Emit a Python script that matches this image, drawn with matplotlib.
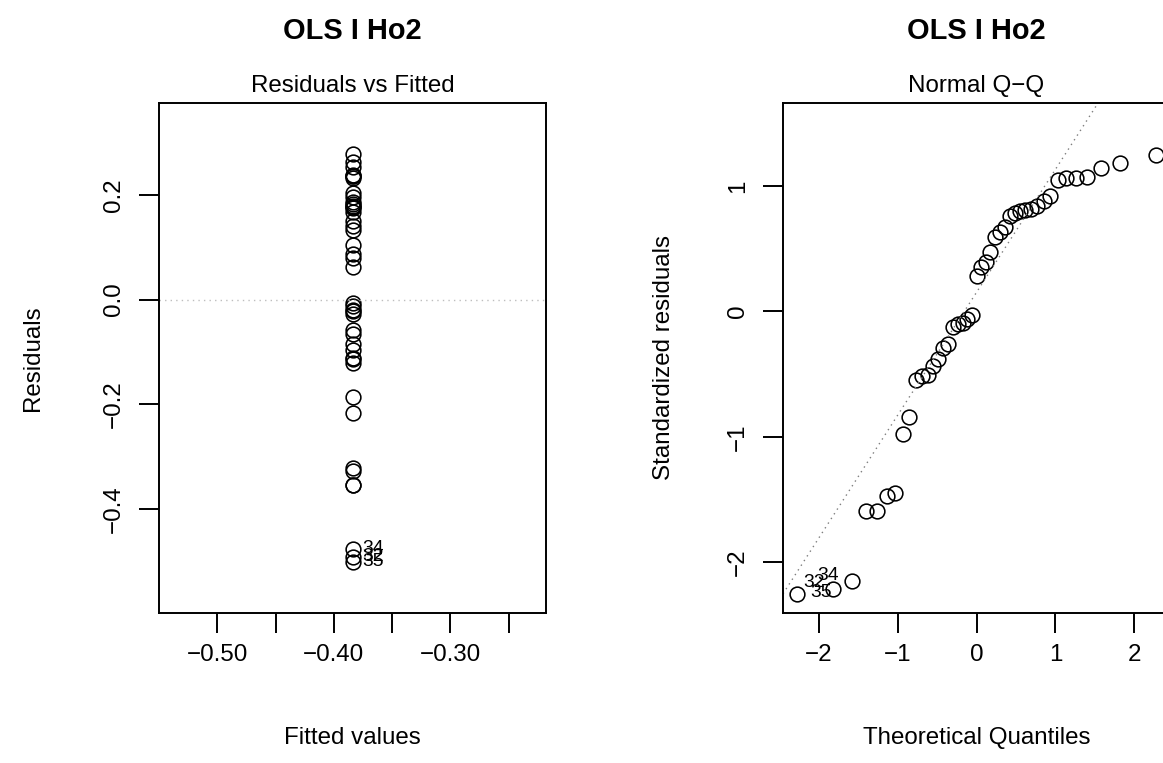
import numpy as np
import matplotlib.pyplot as plt
from statistics import NormalDist

plt.rcParams['font.family'] = ['Liberation Sans', 'DejaVu Sans']

# intercept-only OLS fit (Ho2): residuals per observation, constant fitted value
residuals = [0.141, -0.114, 0.233, -0.353, 0.087, 0.175, -0.027, 0.262, -0.216, 0.182,
             -0.065, 0.105, 0.236, -0.327, 0.150, -0.007, 0.195, -0.096, 0.277, 0.063,
             -0.121, 0.179, -0.353, 0.238, -0.022, 0.168, -0.186, 0.132, -0.085, 0.204,
             -0.013, -0.491, 0.186, -0.476, -0.500, 0.177, -0.321, 0.079, -0.058, 0.253,
             -0.112, 0.236, -0.020]
fitted_value = -0.384
n_coef = 1

main_title = "OLS I Ho2"
x_ticks_fit = [-0.50, -0.45, -0.40, -0.35, -0.30, -0.25]
x_labels_fit = ["\u22120.50", "", "\u22120.40", "", "\u22120.30", ""]
y_ticks_res = [-0.4, -0.2, 0.0, 0.2]
y_labels_res = ["\u22120.4", "\u22120.2", "0.0", "0.2"]
x_ticks_qq = [-2, -1, 0, 1, 2]
y_ticks_qq = [-2, -1, 0, 1]
n_label = 3

r = np.array(residuals)
n = len(r)
fitted = np.full(n, fitted_value)

# standardized residuals, leverage is 1/n for an intercept-only model
sigma = np.sqrt(np.sum(r ** 2) / (n - n_coef))
std_res = r / (sigma * np.sqrt(1 - 1 / n))

# theoretical quantiles, ppoints(n) for n > 10
order = np.argsort(std_res)
probs = (np.arange(1, n + 1) - 0.5) / n
qq_x = np.empty(n)
qq_x[order] = [NormalDist().inv_cdf(p) for p in probs]

# reference line through the quartiles
q1, q3 = np.quantile(std_res, [0.25, 0.75])
z1, z3 = NormalDist().inv_cdf(0.25), NormalDist().inv_cdf(0.75)
qq_slope = (q3 - q1) / (z3 - z1)
qq_int = q1 - qq_slope * z1

show = np.argsort(-np.abs(r))[:n_label]
ids = [str(i + 1) for i in range(n)]


def extend(lo, hi, f):
    d = (hi - lo) * f
    return lo - d, hi + d


BASE = 17.4
LW = 1.4

fig = plt.figure(figsize=(11.63, 7.63), dpi=100)
W, H = 1163, 763
ax1 = fig.add_axes([159 / W, 150 / H, 387 / W, 510 / H])
ax2 = fig.add_axes([783 / W, 150 / H, 387 / W, 510 / H])

mk = dict(marker='o', ms=10.6, mfc='none', mec='black', mew=1.15, ls='none')

# --- Residuals vs Fitted ---
ax1.plot(fitted, r, **mk)
ax1.axhline(0, color='#BEBEBE', lw=1.0, ls=(0, (1, 3)))
for i in show:
    ax1.annotate(ids[i], (fitted[i], r[i]), xytext=(7.2, 0), textcoords='offset points',
                 ha='left', va='center', fontsize=BASE * 0.8)
xl = (fitted_value - 0.4 * abs(fitted_value), fitted_value + 0.4 * abs(fitted_value))
ax1.set_xlim(*extend(*xl, 0.04))
yl = extend(r.min(), r.max(), 0.08)
ax1.set_ylim(*extend(*yl, 0.04))
ax1.set_xticks(x_ticks_fit)
ax1.set_xticklabels(x_labels_fit)
ax1.set_yticks(y_ticks_res)
ax1.set_yticklabels(y_labels_res, rotation=90, va='center')
ax1.set_xlabel("Fitted values", fontsize=BASE)
ax1.set_ylabel("Residuals", fontsize=BASE)
ax1.xaxis.set_label_coords(0.5, (613 - 738) / 510)
ax1.yaxis.set_label_coords((33 - 159) / 387, 0.5)
ax1.annotate("Residuals vs Fitted", (0.5, 1), xycoords='axes fraction', xytext=(0, 12.2),
             textcoords='offset points', ha='center', va='center', fontsize=BASE)

# --- Normal Q-Q ---
ax2.plot(qq_x, std_res, **mk)
xq = extend(qq_x.min(), qq_x.max(), 0.04)
ax2.set_xlim(*xq)
ylq = (std_res.min(), std_res.max() + (std_res.max() - std_res.min()) * 0.075)
ax2.set_ylim(*extend(*ylq, 0.04))
xs = np.array(xq)
ax2.plot(xs, qq_int + qq_slope * xs, color='#7F7F7F', lw=1.0, ls=(0, (1, 3)))
# id labels around the lowest points
qq_offsets = [(9.4, 1.4), (-21.6, 5.0), (-25.2, 3.6)]
for i, off in zip(sorted(show, key=lambda k: std_res[k]), qq_offsets):
    ax2.annotate(ids[i], (qq_x[i], std_res[i]), xytext=off, textcoords='offset points',
                 ha='left', va='center', fontsize=BASE * 0.8)
ax2.set_xticks(x_ticks_qq)
ax2.set_xticklabels([str(v).replace('-', '\u2212') for v in x_ticks_qq])
ax2.set_yticks(y_ticks_qq)
ax2.set_yticklabels([str(v).replace('-', '\u2212') for v in y_ticks_qq], rotation=90, va='center')
ax2.set_xlabel("Theoretical Quantiles", fontsize=BASE)
ax2.set_ylabel("Standardized residuals", fontsize=BASE)
ax2.xaxis.set_label_coords(0.5, (613 - 738) / 510)
ax2.yaxis.set_label_coords((664 - 783) / 387, 0.5)
ax2.annotate("Normal Q\u2212Q", (0.5, 1), xycoords='axes fraction', xytext=(0, 12.2),
             textcoords='offset points', ha='center', va='center', fontsize=BASE)

for ax in (ax1, ax2):
    for s in ax.spines.values():
        s.set_linewidth(LW)
    ax.tick_params(direction='out', length=14.4, width=LW, labelsize=BASE)
    ax.tick_params(axis='x', pad=8)
    ax.tick_params(axis='y', pad=10)
    ax.xaxis.label.set_va('center')
    ax.yaxis.label.set_va('center')
    ax.annotate(main_title, (0.5, 1), xycoords='axes fraction', xytext=(0, 51.8),
                textcoords='offset points', ha='center', va='center',
                fontsize=BASE * 1.2, fontweight='bold')

fig.savefig('out.png', dpi=100)
